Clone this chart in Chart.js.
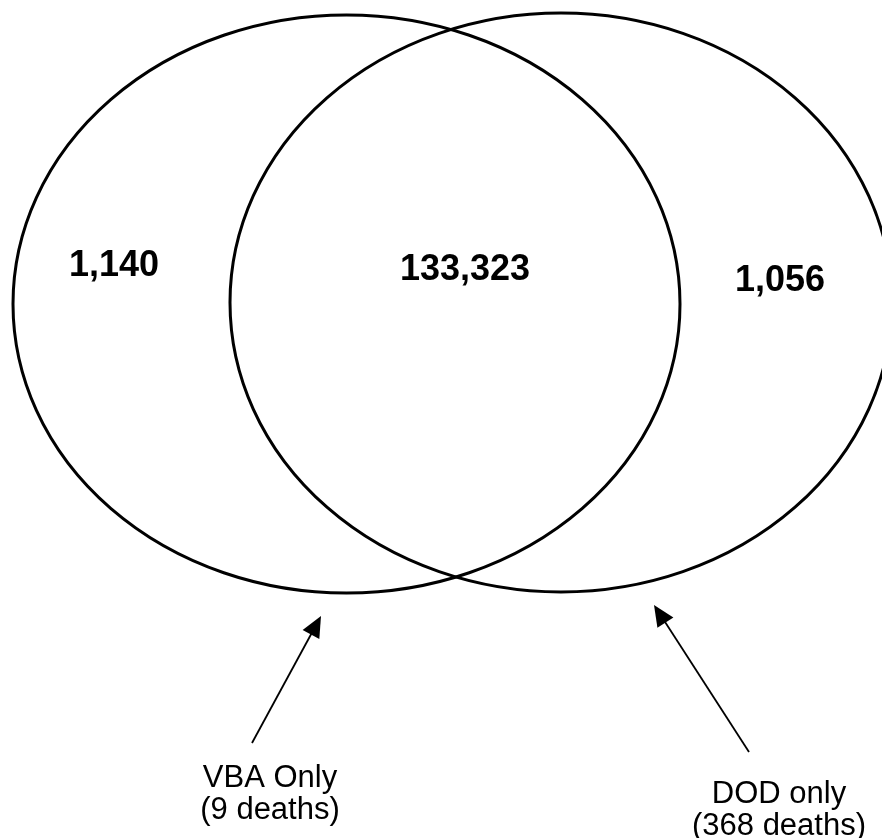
<!DOCTYPE html>
<html>
<head>
<meta charset="utf-8">
<script src="https://cdn.jsdelivr.net/npm/chart.js@4/dist/chart.umd.min.js"></script>
<style>
  html, body { margin: 0; padding: 0; background: #fff; }
  canvas { display: block; }
</style>
</head>
<body>
<canvas id="chart" width="882" height="838"></canvas>
<script>
const regions = ['VBA only', 'Both', 'DOD only'];
const counts = [1140, 133323, 1056];
const notes = ['VBA Only', 'DOD only'];
const deaths = [9, 368];

// diagram space is the canvas size, y grows downwards
const circles = [
    { cx: 346.5, cy: 304, rx: 333.5, ry: 289 },
    { cx: 561, cy: 302.5, rx: 331, ry: 289.5 }
];
const countPos = [[114, 266], [465, 270], [780, 281]];
const arrows = [
    { from: [252, 743], to: [321, 616] },
    { from: [749, 752], to: [654, 605] }
];
const notePos = [[270, 787], [779, 803]];

const FONT = "'Liberation Sans', Arial, Helvetica, sans-serif";

const vennPlugin = {
    id: 'venn',
    afterDatasetsDraw(chart) {
        const ctx = chart.ctx;
        const xs = chart.scales.x;
        const ys = chart.scales.y;
        const px = v => xs.getPixelForValue(v);
        const py = v => ys.getPixelForValue(v);

        ctx.save();
        ctx.strokeStyle = '#000';
        ctx.fillStyle = '#000';

        // the two sets
        ctx.lineWidth = 3;
        circles.forEach(c => {
            const cx = px(c.cx), cy = py(c.cy);
            const rx = Math.abs(px(c.cx + c.rx) - cx);
            const ry = Math.abs(py(c.cy + c.ry) - cy);
            ctx.beginPath();
            ctx.ellipse(cx, cy, rx, ry, 0, 0, Math.PI * 2);
            ctx.stroke();
        });

        // counts, placed on the scatter points
        const meta = chart.getDatasetMeta(0);
        ctx.font = 'bold 36px ' + FONT;
        ctx.textAlign = 'center';
        ctx.textBaseline = 'middle';
        meta.data.forEach((pt, i) => {
            ctx.fillText(counts[i].toLocaleString('en-US'), pt.x, pt.y);
        });

        // arrows
        ctx.lineWidth = 1.8;
        arrows.forEach(a => {
            const x1 = px(a.from[0]), y1 = py(a.from[1]);
            const x2 = px(a.to[0]), y2 = py(a.to[1]);
            const ang = Math.atan2(y2 - y1, x2 - x1);
            const len = 21, half = 9.5;
            ctx.beginPath();
            ctx.moveTo(x1, y1);
            ctx.lineTo(x2 - Math.cos(ang) * len * 0.8, y2 - Math.sin(ang) * len * 0.8);
            ctx.stroke();
            const bx = x2 - Math.cos(ang) * len, by = y2 - Math.sin(ang) * len;
            ctx.beginPath();
            ctx.moveTo(x2, y2);
            ctx.lineTo(bx + Math.sin(ang) * half, by - Math.cos(ang) * half);
            ctx.lineTo(bx - Math.sin(ang) * half, by + Math.cos(ang) * half);
            ctx.closePath();
            ctx.fill();
        });

        // notes under the arrows
        ctx.font = '31px ' + FONT;
        ctx.textBaseline = 'alphabetic';
        notes.forEach((n, i) => {
            const x = px(notePos[i][0]), y = py(notePos[i][1]);
            ctx.fillText(n, x, y);
            ctx.fillText('(' + deaths[i] + ' deaths)', x, y + 32);
        });

        ctx.restore();
    }
};

const ctx = document.getElementById('chart').getContext('2d');

const chart = new Chart(ctx, {
    type: 'scatter',
    data: {
        labels: regions,
        datasets: [{
            label: 'Records',
            data: countPos.map(p => ({ x: p[0], y: p[1] })),
            pointRadius: 0,
            clip: false
        }]
    },
    options: {
        responsive: false,
        animation: false,
        events: [],
        layout: { padding: 0 },
        plugins: {
            legend: { display: false },
            tooltip: { enabled: false }
        },
        scales: {
            x: { type: 'linear', min: 0, max: 882, display: false },
            y: { type: 'linear', min: 0, max: 838, reverse: true, display: false }
        }
    },
    plugins: [vennPlugin]
});
</script>
</body>
</html>
